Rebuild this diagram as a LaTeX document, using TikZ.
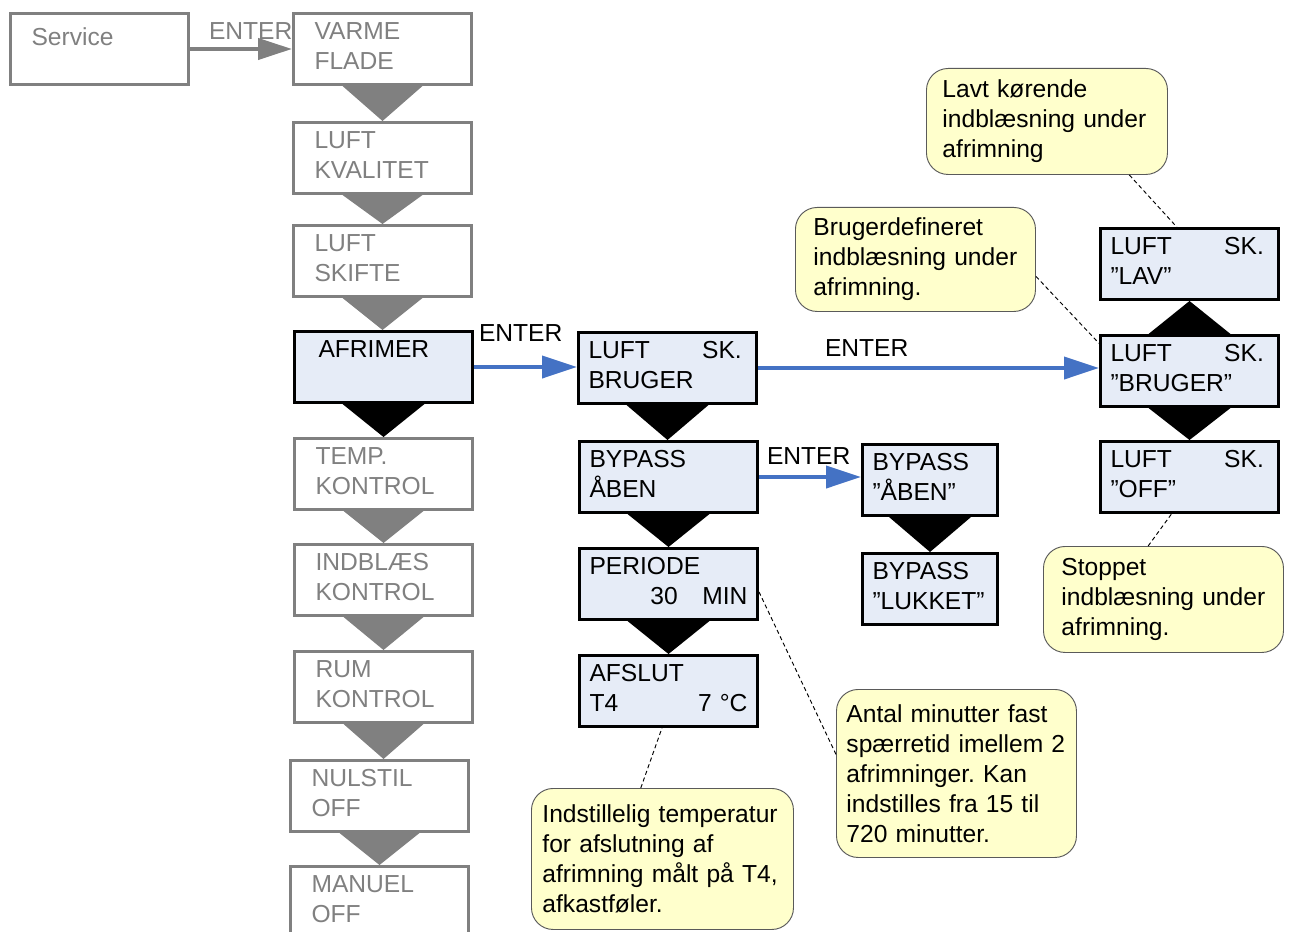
\documentclass[tikz,border=0pt]{standalone}
\usepackage{fontspec}
\setmainfont{Liberation Sans}
\usetikzlibrary{arrows.meta,calc}
\frenchspacing

\definecolor{menugray}{RGB}{128,128,128}
\definecolor{menublue}{RGB}{68,114,196}
\definecolor{menufill}{RGB}{230,236,247}
\definecolor{notefill}{RGB}{255,255,204}
\definecolor{noteline}{RGB}{90,90,90}

% push the rest of a line to the right edge (stronger than ragged right)
\newcommand{\rfill}{\hskip 0pt plus 1filll\relax}
% lift box text a little towards the top edge
\newcommand{\liftend}{\par\kern0.18cm}

\begin{document}
\begin{tikzpicture}[
  x=0.03cm, y=-0.03cm,
  font=\fontsize{21}{25.6}\selectfont,
  gbox/.style={draw=menugray, text=menugray, line width=0.09cm, anchor=north west,
    minimum height=2.13cm, inner xsep=0.63cm, inner ysep=0pt, text width=4.08cm, align=left,
    execute at end node=\liftend},
  abox/.style={draw=black, fill=menufill, line width=0.09cm, anchor=north west,
    minimum height=2.13cm, inner xsep=0.3cm, inner ysep=0pt, text width=4.74cm, align=left,
    execute at end node=\liftend},
  note/.style={draw=noteline, fill=notefill, line width=0.8pt, rounded corners=0.65cm,
    anchor=north west, inner ysep=0pt, align=left},
  flow/.style={menublue, line width=0.12cm, -{Triangle[length=1.05cm,width=0.66cm]}},
  lbl/.style={inner sep=0pt, anchor=base west},
  tip/.style={dash pattern=on 3.5pt off 2.5pt, line width=0.8pt}
]

\useasboundingbox (0,0) rectangle (1291,932);

% --- Main menu (left column) ---
\node[gbox] (service) at (9,12)    {\raisebox{-0.36cm}{Service}\\\phantom{X}};
\node[gbox] (varme)   at (292,12)  {VARME\\FLADE};
\node[gbox] (kval)    at (292,121) {LUFT\\KVALITET};
\node[gbox] (skift)   at (292,224) {LUFT\\SKIFTE};
\node[abox, inner xsep=0.72cm, text width=3.9cm] (afrim) at (293,330) {AFRIMER\\\phantom{X}};
\node[gbox] (temp)    at (293,437) {TEMP.\\KONTROL};
\node[gbox] (indbl)   at (293,543) {INDBLÆS\\KONTROL};
\node[gbox] (rum)     at (293,650) {RUM\\KONTROL};
\node[gbox] (nulst)   at (289,759) {NULSTIL\\OFF};
\node[gbox] (manuel)  at (289,865) {MANUEL\\OFF};

% --- Defrost submenu ---
\node[abox] (lbrug)   at (577,331) {LUFT\rfill SK.\kern0.14cm\\BRUGER};
\node[abox] (bypass)  at (578,440) {BYPASS\\ÅBEN};
\node[abox] (periode) at (578,547) {PERIODE\\\mbox{}\rfill 30\quad MIN};
\node[abox] (afslut)  at (578,654) {AFSLUT\\T4\rfill 7 °C};

% --- Bypass choices ---
\node[abox, text width=3.45cm] (bpaaben)  at (861,443) {BYPASS\\”ÅBEN”};
\node[abox, text width=3.45cm] (bplukket) at (861,552) {BYPASS\\”LUKKET”};

% --- Air change choices ---
\node[abox] (blav)  at (1099,227) {LUFT\rfill SK.\kern0.14cm\\”LAV”};
\node[abox] (bbrug) at (1099,334) {LUFT\rfill SK.\kern0.14cm\\”BRUGER”};
\node[abox] (boff)  at (1099,440) {LUFT\rfill SK.\kern0.14cm\\”OFF”};

% --- Notes ---
\node[note, inner xsep=0.48cm, text width=6.27cm, minimum height=3.18cm] (nlav) at (926,68)
  {Lavt kørende\\indblæsning under\\afrimning};
\node[note, inner xsep=0.54cm, text width=6.12cm, minimum height=3.12cm] (nbrug) at (795,207)
  {Brugerdefineret\\indblæsning under\\afrimning.};
\node[note, inner xsep=0.54cm, text width=6.12cm, minimum height=3.18cm] (nstop) at (1043,546)
  {Stoppet\\indblæsning under\\afrimning.};
\node[note, inner xsep=0.3cm, text width=6.6cm, minimum height=5.04cm] (nantal) at (836,689)
  {Antal minutter fast\\spærretid~imellem~2\\afrimninger. Kan\\indstilles fra 15 til\\720 minutter.};
\node[note, inner xsep=0.33cm, text width=7.2cm, minimum height=4.23cm] (nindst) at (531,788)
  {Indstillelig~temperatur\\for afslutning af\\afrimning målt på T4,\\afkastføler.};

% --- Step wedges ---
\foreach \a/\b in {varme/kval, kval/skift, skift/afrim, temp/indbl, indbl/rum, rum/nulst, nulst/manuel}
  \fill[menugray] ($(\a.south)+(-40,0)$) -- ($(\a.south)+(40,0)$) -- (\a.south |- \b.north) -- cycle;
\foreach \a/\b in {afrim/temp, lbrug/bypass, bypass/periode, periode/afslut, bpaaben/bplukket, bbrug/boff}
  \fill ($(\a.south)+(-41,0)$) -- ($(\a.south)+(41,0)$) -- (\a.south |- \b.north) -- cycle;
\fill ($(bbrug.north)+(-41,0)$) -- ($(bbrug.north)+(41,0)$) -- (bbrug.north |- blav.south) -- cycle;

% --- ENTER arrows ---
\draw[menugray, line width=0.12cm, -{Triangle[length=1.02cm,width=0.63cm]}] (service.east) -- (varme.west)
  node[pos=0, lbl, text=menugray, shift={(17,-9)}] {ENTER};
\draw[flow] (afrim.east) -- (afrim.east -| lbrug.west)
  node[pos=0, lbl, text=black, shift={(3,-26)}] {ENTER};
\draw[flow] (lbrug.east) -- (lbrug.east -| bbrug.west)
  node[pos=0, lbl, text=black, shift={(65,-12)}] {ENTER};
\draw[flow] (bypass.east) -- (bypass.east -| bpaaben.west)
  node[pos=0, lbl, text=black, shift={(6,-13)}] {ENTER};

% --- Note leaders ---
\draw[tip] (nlav.-33) -- (blav.109);
\draw[tip] (nbrug.-8.5) -- (bbrug.163);
\draw[tip] (nstop.106) -- (boff.244);
\draw[tip] (nantal.171) -- (periode.-5);
\draw[tip] (nindst.107) -- (afslut.260);
\end{tikzpicture}
\end{document}
